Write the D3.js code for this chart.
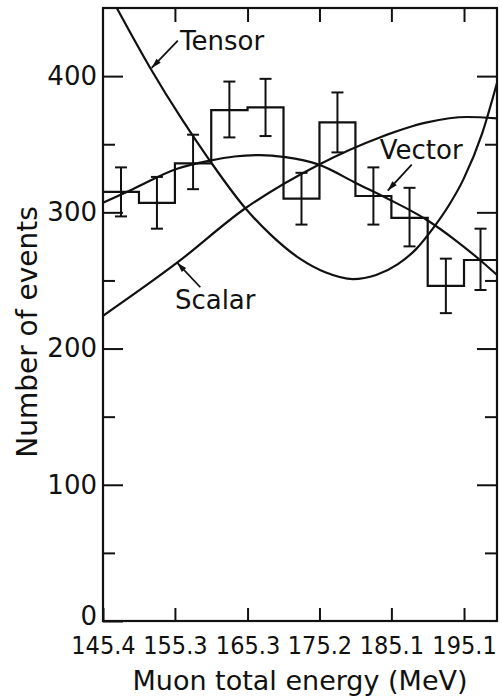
<!DOCTYPE html>
<html>
<head>
<meta charset="utf-8">
<script src="https://cdn.jsdelivr.net/npm/d3@7"></script>
<style>
  body { margin: 0; background: #fff; }
  text { font-family: "DejaVu Sans", sans-serif; fill: #111; }
</style>
</head>
<body>
<div id="vis"></div>
<script>
// axis ticks
const energyTicks = [145.4, 155.3, 165.3, 175.2, 185.1, 195.1];
const countTicks = [0, 100, 200, 300, 400];
const minorTicks = [50, 150, 250, 350];

// histogram (bin edges in MeV, counts, error bar ends)
const binEdges = [145.4, 150.35, 155.3, 160.3, 165.3, 170.25, 175.2, 180.15, 185.1, 190.1, 195.1, 199.64];
const binCounts = [315, 307, 336, 375, 377, 310, 366, 312, 296, 246, 265];
const errHigh = [333, 326, 357, 396, 398, 329, 388, 333, 318, 266, 288];
const errLow = [297, 288, 317, 355, 356, 291, 344, 291, 275, 226, 243];

// theory curves [energy, events]
const tensorCurve = [[147.3, 450], [151.9, 406], [156.3, 368], [160.1, 338], [165.0, 303], [168.4, 284],
    [172.5, 266], [176.0, 256], [179.8, 251], [183.0, 254], [186.0, 262], [188.5, 273], [190.8, 288],
    [193.0, 305], [195.0, 324], [197.6, 358], [199.64, 395]];
const vectorCurve = [[145.4, 307], [149.5, 317], [155.6, 332], [160.1, 338], [163.5, 341], [167.0, 342],
    [170.5, 340.5], [175.1, 335], [180.4, 321], [184.6, 310], [190.1, 294], [193.8, 280], [197.3, 265],
    [199.64, 254]];
const scalarCurve = [[145.4, 224], [155.6, 263], [165.0, 303], [175.1, 335], [183.5, 355], [190.0, 366],
    [195.5, 370], [199.64, 369]];

// curve labels: text position and arrow (from -> tip), data units
const labelNames = ["Tensor", "Vector", "Scalar"];
const labelPos = [[156.0, 419], [183.5, 339], [155.3, 229]];
const arrowFrom = [[155.7, 426], [187.9, 335], [158.8, 245]];
const arrowTip = [[152.1, 406], [184.6, 316], [155.6, 263]];

const svg = d3.select("#vis")
    .append("svg")
    .attr("width", 502)
    .attr("height", 699);

const margin = {top: 8, right: 5, bottom: 78, left: 103};
const width = 502 - margin.left - margin.right;
const height = 699 - margin.top - margin.bottom;

const x = d3.scaleLinear().domain([145.4, 199.64]).range([0, width]);
const y = d3.scaleLinear().domain([0, 450]).range([height, 0]);

const g = svg.append("g").attr("transform", `translate(${margin.left},${margin.top})`);

g.append("clipPath").attr("id", "plot")
    .append("rect").attr("width", width).attr("height", height);

const ink = "#111";

// axes
function styleAxis(sel) {
    sel.select(".domain").remove();
    sel.selectAll(".tick line").attr("stroke", ink).attr("stroke-width", 2);
    sel.selectAll("text").style("font-family", "DejaVu Sans").attr("fill", ink);
}

g.append("g")
    .attr("transform", `translate(0,${height})`)
    .call(d3.axisBottom(x).tickValues(energyTicks).tickSize(-13).tickSizeOuter(0).tickPadding(15)
        .tickFormat(d3.format(".1f")))
    .call(styleAxis)
    .selectAll("text")
    .style("font-size", "25px")
    .style("font-family", "DejaVu Sans Condensed, DejaVu Sans")
    .attr("dy", "0.71em");

g.append("g")
    .call(d3.axisTop(x).tickValues(energyTicks.slice(1)).tickSize(-14).tickFormat(""))
    .call(styleAxis);

g.append("g")
    .call(d3.axisLeft(y).tickValues(countTicks).tickSize(-20).tickPadding(6))
    .call(styleAxis)
    .selectAll("text")
    .style("font-size", "26px")
    .attr("y", d => d === 0 ? -5 : 0);

g.append("g")
    .call(d3.axisLeft(y).tickValues(minorTicks).tickSize(-12).tickFormat(""))
    .call(styleAxis);

g.append("g")
    .attr("transform", `translate(${width},0)`)
    .call(d3.axisRight(y).tickValues(countTicks.slice(1)).tickSize(-20).tickFormat(""))
    .call(styleAxis);

g.append("g")
    .attr("transform", `translate(${width},0)`)
    .call(d3.axisRight(y).tickValues(minorTicks).tickSize(-12).tickFormat(""))
    .call(styleAxis);

// frame
g.append("rect")
    .attr("width", width)
    .attr("height", height)
    .attr("fill", "none")
    .attr("stroke", ink)
    .attr("stroke-width", 2.2);

// axis titles
svg.append("text")
    .attr("x", margin.left + width / 2)
    .attr("y", 690)
    .attr("text-anchor", "middle")
    .style("font-size", "27px")
    .text("Muon total energy (MeV)");

svg.append("text")
    .attr("transform", "translate(37,332) rotate(-90)")
    .attr("text-anchor", "middle")
    .style("font-size", "28px")
    .text("Number of events");

const plot = g.append("g").attr("clip-path", "url(#plot)");

// histogram
const stepPoints = binCounts.map((c, i) => [binEdges[i], c]);
stepPoints.push([binEdges[binEdges.length - 1], binCounts[binCounts.length - 1]]);

plot.append("path")
    .datum(stepPoints)
    .attr("fill", "none")
    .attr("stroke", ink)
    .attr("stroke-width", 2.2)
    .attr("d", d3.line().x(d => x(d[0])).y(d => y(d[1])).curve(d3.curveStepAfter));

// error bars
const centers = binCounts.map((c, i) => (binEdges[i] + binEdges[i + 1]) / 2);
const bars = plot.append("g").attr("stroke", ink).attr("stroke-width", 2);
centers.forEach((cx, i) => {
    const px = x(cx);
    bars.append("line").attr("x1", px).attr("x2", px).attr("y1", y(errLow[i])).attr("y2", y(errHigh[i]));
    bars.append("line").attr("x1", px - 6).attr("x2", px + 6).attr("y1", y(errLow[i])).attr("y2", y(errLow[i]));
    bars.append("line").attr("x1", px - 6).attr("x2", px + 6).attr("y1", y(errHigh[i])).attr("y2", y(errHigh[i]));
});

// theory curves
const curveLine = d3.line().x(d => x(d[0])).y(d => y(d[1])).curve(d3.curveMonotoneX);
[tensorCurve, vectorCurve, scalarCurve].forEach(pts => {
    plot.append("path")
        .datum(pts)
        .attr("fill", "none")
        .attr("stroke", ink)
        .attr("stroke-width", 2.2)
        .attr("d", curveLine);
});

// labels with arrows
labelNames.forEach((name, i) => {
    g.append("text")
        .attr("x", x(labelPos[i][0]))
        .attr("y", y(labelPos[i][1]))
        .style("font-size", "26px")
        .text(name);

    const x0 = x(arrowFrom[i][0]), y0 = y(arrowFrom[i][1]);
    const x1 = x(arrowTip[i][0]), y1 = y(arrowTip[i][1]);
    g.append("line")
        .attr("x1", x0).attr("y1", y0).attr("x2", x1).attr("y2", y1)
        .attr("stroke", ink).attr("stroke-width", 1.8);

    const ang = Math.atan2(y1 - y0, x1 - x0);
    const len = 10, half = 3;
    const bx = x1 - len * Math.cos(ang), by = y1 - len * Math.sin(ang);
    const nx = -Math.sin(ang) * half, ny = Math.cos(ang) * half;
    g.append("path")
        .attr("d", `M${x1},${y1}L${bx + nx},${by + ny}L${bx - nx},${by - ny}Z`)
        .attr("fill", ink);
});
</script>
</body>
</html>
